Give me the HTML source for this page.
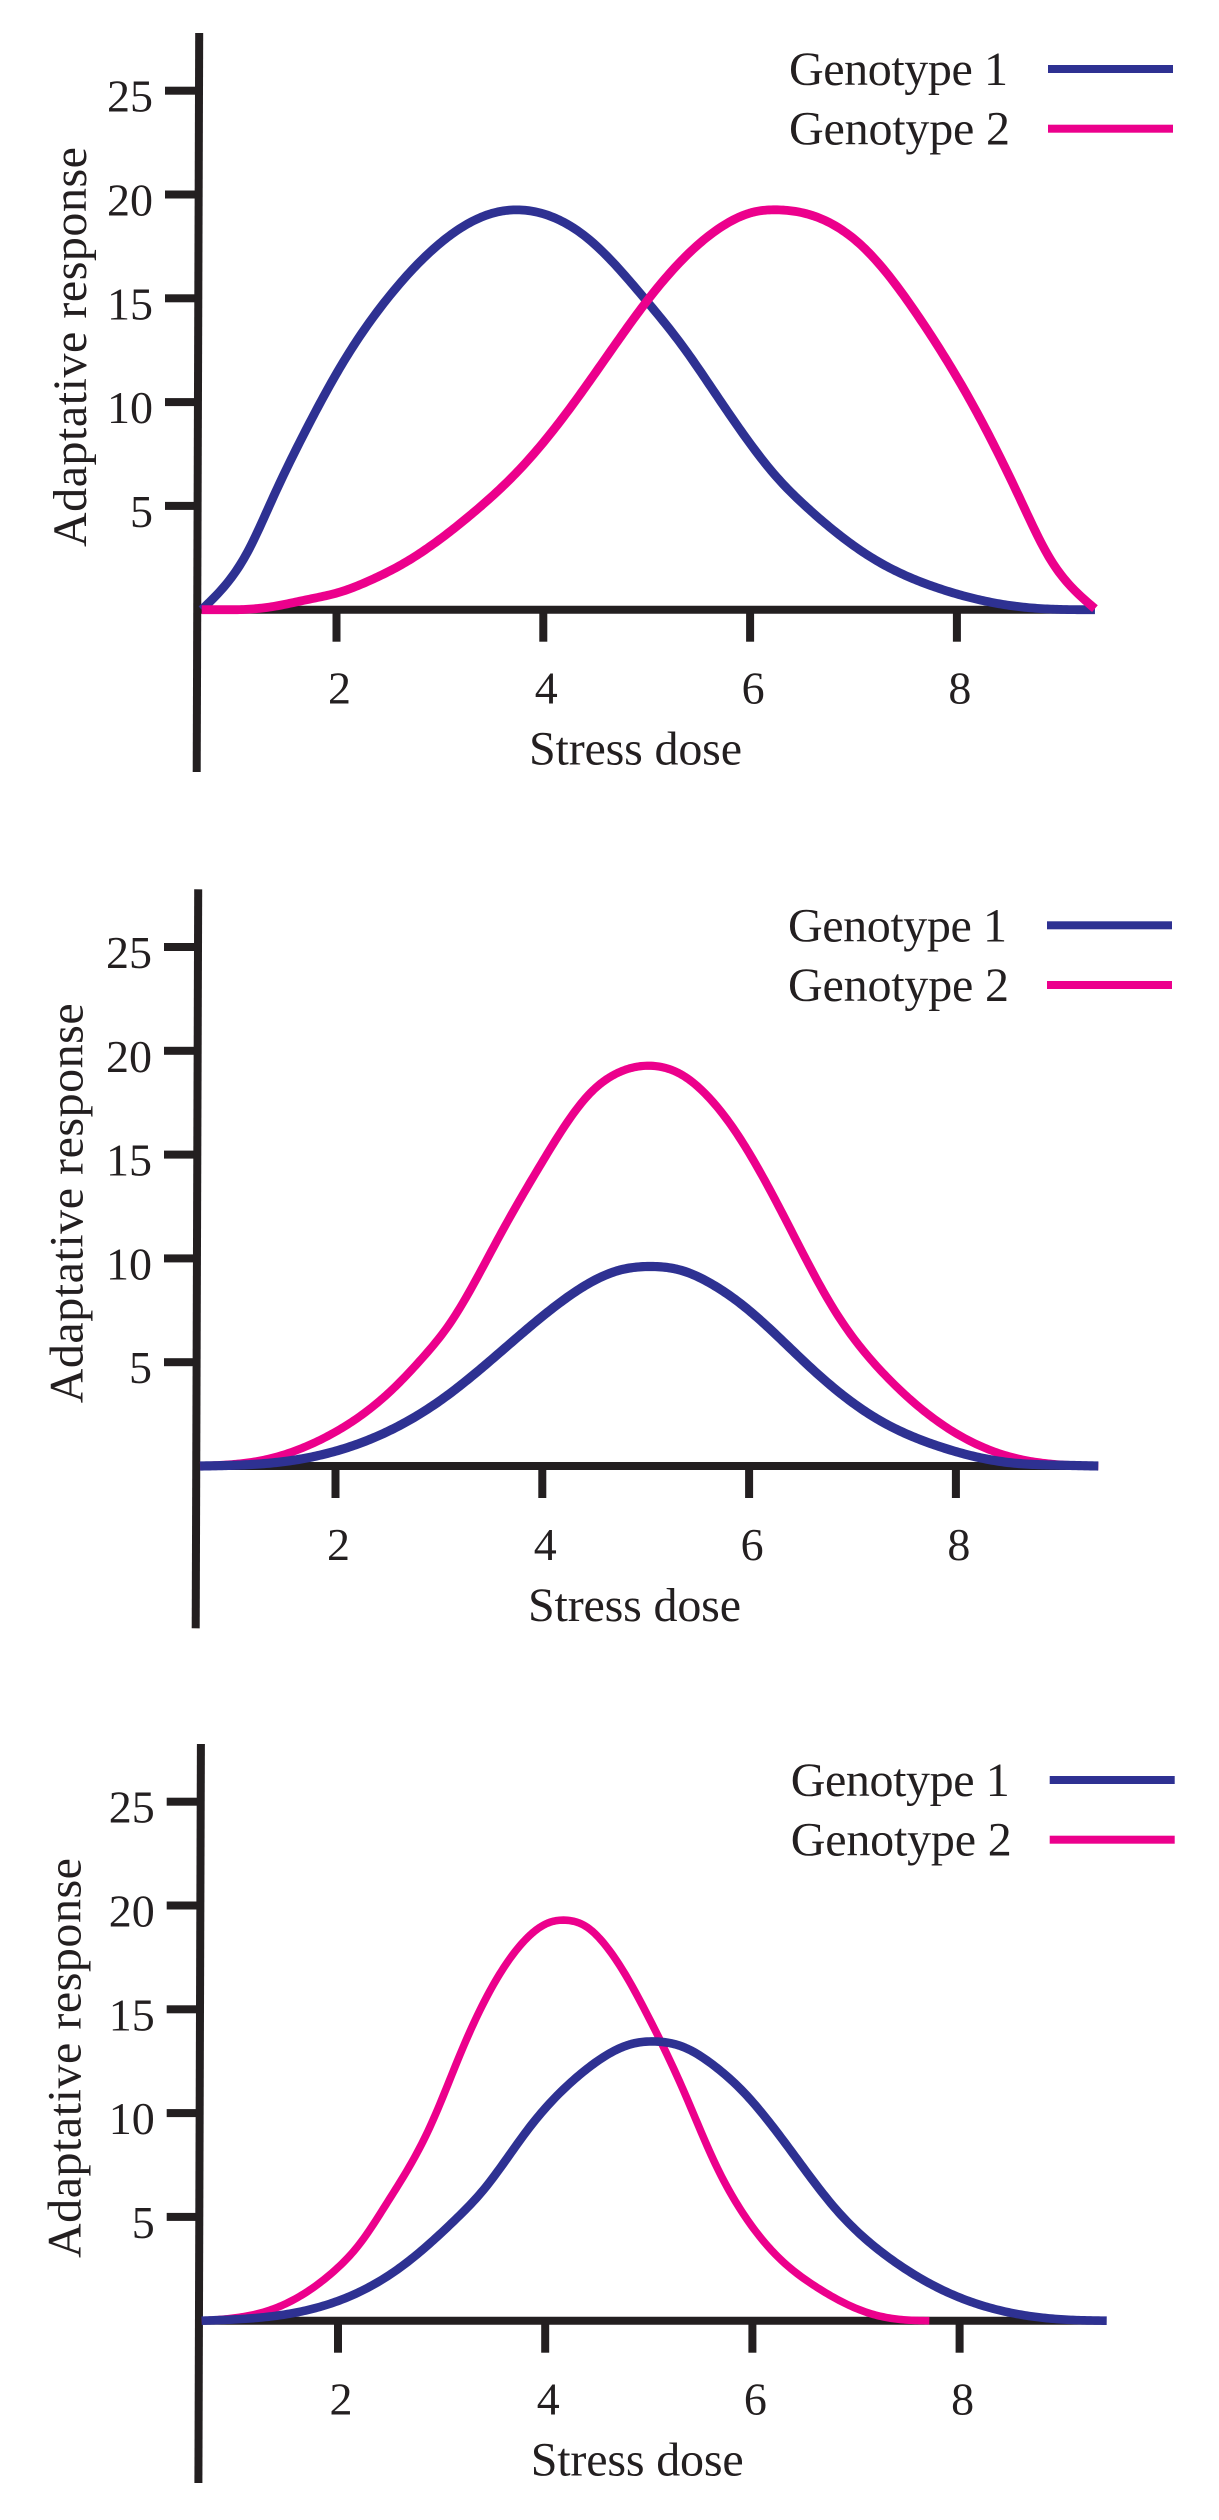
<!DOCTYPE html>
<html lang="en">
<head>
<meta charset="utf-8">
<title>Adaptative response to stress dose by genotype</title>
<style>
html,body{margin:0;padding:0;background:#fff;}
#chart{display:block;width:1219px;height:2520px;}
text{font-family:"Liberation Serif",serif;fill:#231f20;font-size:46px;}
text.big{font-size:48px;}
</style>
</head>
<body>
<svg id="chart" xmlns="http://www.w3.org/2000/svg" width="1219" height="2520" viewBox="0 0 1219 2520"></svg>
<script>
const xTickValues = [2, 4, 6, 8];
const yTickValues = [5, 10, 15, 20, 25];
const seriesNames = ["Genotype 1", "Genotype 2"];
const xAxisLabel = "Stress dose";
const yAxisLabel = "Adaptative response";

const dosesTopGenotype1 = [0.696,1.131,1.389,1.711,2.066,2.517,3.033,3.549,3.758,4.0,4.451,4.967,5.354,5.644,5.967,6.257,6.547,6.869,7.191,7.836,8.578,8.9,9.335];
const valuesTopGenotype1 = [0,2.7,5.43,8.72,11.93,15.14,17.78,19.15,19.26,19.07,17.8,15.06,12.65,10.56,8.23,6.39,4.94,3.58,2.46,1.01,0.16,0.03,0];
const dosesTopGenotype2 = [0.696,1.357,1.711,2.034,2.324,2.646,3.291,3.807,4.29,4.742,5.032,5.418,5.741,6.031,6.273,6.547,7.095,7.643,8.191,8.61,8.9,9.093,9.335];
const valuesTopGenotype2 = [0,0.13,0.48,0.85,1.41,2.22,4.54,6.95,9.92,13.1,15.06,17.22,18.5,19.15,19.26,19.07,17.46,14.01,9.52,5.35,2.46,1.17,0.05];

const dosesMiddleGenotype1 = [0.69,1.496,1.882,2.43,3.043,3.655,4.204,4.752,5.042,5.332,5.654,5.976,6.621,7.201,7.846,8.523,8.91,9.377];
const valuesMiddleGenotype1 = [0,0.21,0.56,1.49,3.26,5.75,7.99,9.44,9.61,9.44,8.72,7.59,4.62,2.38,0.93,0.16,0.05,0];
const dosesMiddleGenotype2 = [0.69,1.302,1.882,2.527,2.85,3.107,3.591,4.01,4.461,4.719,5.042,5.364,5.59,5.848,6.363,6.815,7.33,7.943,8.588,8.91,9.377];
const valuesMiddleGenotype2 = [0,0.29,1.33,3.58,5.26,6.87,11.12,14.73,17.95,18.91,19.28,18.8,17.86,16.26,11.77,7.59,4.3,1.75,0.37,0.11,0];

const dosesBottomGenotype1 = [0.684,1.375,1.955,2.566,3.145,3.402,3.853,4.368,4.85,5.05,5.35,5.623,5.88,6.331,6.813,7.328,7.94,8.68,9.033,9.42];
const valuesBottomGenotype1 = [0,0.22,0.87,2.44,4.93,6.29,9.34,11.99,13.35,13.45,13.15,12.31,11.19,8.46,5.33,3.0,1.24,0.22,0.05,0];
const dosesBottomGenotype2 = [0.684,1.343,1.955,2.212,2.47,2.888,3.209,3.595,3.82,4.014,4.207,4.4,4.593,4.786,4.979,5.333,5.655,5.848,6.073,6.331,6.588,7.135,7.425,7.708];
const valuesBottomGenotype2 = [0,0.51,2.36,3.72,5.65,9.34,13.19,16.97,18.41,19.13,19.29,18.97,18.01,16.57,14.8,11.11,7.42,5.65,4.04,2.68,1.72,0.35,0.06,0];

const NS = "http://www.w3.org/2000/svg";
const BLUE = "#2e3192";
const PINK = "#ec008c";
const INK = "#231f20";
const svg = document.getElementById("chart");

const panels = [
  { id: "top", ox: 0, base: 609.7, k: 103.4, x0: 336.5, domainMax: 9.30, titleX: 86, pinkOnTop: true, blueWidth: 8.8, pinkWidth: 8.8,
    g1: [dosesTopGenotype1, valuesTopGenotype1], g2: [dosesTopGenotype2, valuesTopGenotype2] },
  { id: "middle", ox: -1, base: 1466, k: 103.4, x0: 335.5, domainMax: 9.35, titleX: 82.5, pinkOnTop: false, blueWidth: 9.2, pinkWidth: 8.2,
    g1: [dosesMiddleGenotype1, valuesMiddleGenotype1], g2: [dosesMiddleGenotype2, valuesMiddleGenotype2] },
  { id: "bottom", ox: 1.7, base: 2320.7, k: 103.6, x0: 338, domainMax: 9.40, titleX: 80.5, pinkOnTop: false, blueWidth: 8.6, pinkWidth: 7.6,
    g1: [dosesBottomGenotype1, valuesBottomGenotype1], g2: [dosesBottomGenotype2, valuesBottomGenotype2] }
];

function make(tag, attrs, parent) {
  const el = document.createElementNS(NS, tag);
  for (const key in attrs) el.setAttribute(key, attrs[key]);
  parent.appendChild(el);
  return el;
}

/* natural cubic spline through the read points, returned as an evaluator */
function spline(xs, ys) {
  const n = xs.length;
  const a = new Array(n).fill(0), b = new Array(n).fill(1), c = new Array(n).fill(0), r = new Array(n).fill(0);
  for (let i = 1; i < n - 1; i++) {
    const h0 = xs[i] - xs[i - 1], h1 = xs[i + 1] - xs[i];
    a[i] = h0;
    b[i] = 2 * (h0 + h1);
    c[i] = h1;
    r[i] = 6 * ((ys[i + 1] - ys[i]) / h1 - (ys[i] - ys[i - 1]) / h0);
  }
  for (let i = 1; i < n; i++) {
    const w = a[i] / b[i - 1];
    b[i] -= w * c[i - 1];
    r[i] -= w * r[i - 1];
  }
  const m = new Array(n).fill(0);
  m[n - 1] = r[n - 1] / b[n - 1];
  for (let i = n - 2; i >= 0; i--) m[i] = (r[i] - c[i] * m[i + 1]) / b[i];
  return function (x) {
    let i = 0;
    while (i < n - 2 && x > xs[i + 1]) i++;
    const h = xs[i + 1] - xs[i], A = (xs[i + 1] - x) / h, B = (x - xs[i]) / h;
    return A * ys[i] + B * ys[i + 1] + ((A * A * A - A) * m[i] + (B * B * B - B) * m[i + 1]) * h * h / 6;
  };
}

panels.forEach(function (p) {
  const xScale = function (d) { return p.x0 + (d - 2) * p.k; };
  const yScale = function (v) { return p.base - v * 20.76; };

  const g = make("g", {}, svg);
  
  

  yTickValues.forEach(function (v) {
    const tick = make("rect", { x: 165 + p.ox, y: yScale(v) - 4, width: 32, height: 8, fill: INK }, g);
    
    
    const label = make("text", { x: 153 + p.ox, y: yScale(v) + 21, "text-anchor": "end" }, g);
    label.textContent = String(v);
    
    
  });

  xTickValues.forEach(function (v) {
    const tick = make("rect", { x: xScale(v) - 4, y: p.base, width: 8, height: 32, fill: INK }, g);
    
    
    const label = make("text", { x: xScale(v) + 3, y: p.base + 94, "text-anchor": "middle" }, g);
    label.textContent = String(v);
    
    
  });

  const baseline = make("line", { x1: 197 + p.ox, y1: p.base, x2: xScale(p.domainMax), y2: p.base, stroke: INK, "stroke-width": 8 }, g);
  
  

  const yAxis = make("line", { x1: 199.2 + p.ox, y1: p.base - 576.7, x2: 196.7 + p.ox, y2: p.base + 162.3, stroke: INK, "stroke-width": 8 }, g);
  
  

  const xTitle = make("text", { class: "big", x: 529 + p.ox, y: p.base + 155, textLength: 213, lengthAdjust: "spacing" }, g);
  xTitle.textContent = xAxisLabel;
  
  

  const yTitle = make("text", { class: "big", transform: "translate(" + p.titleX + " " + (p.base - 62.7) + ") rotate(-90)", textLength: 400, lengthAdjust: "spacing" }, g);
  yTitle.textContent = yAxisLabel;
  
  

  const drawSeries = function (series, color, width, name) {
    const f = spline(series[0], series[1]);
    const first = series[0][0];
    const last = series[0][series[0].length - 1];
    const steps = Math.ceil((xScale(last) - xScale(first)) / 2);
    let d = "";
    for (let i = 0; i <= steps; i++) {
      const dose = first + (last - first) * i / steps;
      const px = xScale(dose);
      const py = yScale(Math.max(0, f(dose)));
      d += (i === 0 ? "M" : "L") + px.toFixed(2) + " " + py.toFixed(2);
    }
    const line = make("path", { d: d, fill: "none", stroke: color, "stroke-width": width, "stroke-linejoin": "round" }, g);
    
    
  };
  if (p.pinkOnTop) {
    drawSeries(p.g1, BLUE, p.blueWidth, 'genotype-1-curve');
    drawSeries(p.g2, PINK, p.pinkWidth, 'genotype-2-curve');
  } else {
    drawSeries(p.g2, PINK, p.pinkWidth, 'genotype-2-curve');
    drawSeries(p.g1, BLUE, p.blueWidth, 'genotype-1-curve');
  }

  seriesNames.forEach(function (name, i) {
    const rowY = p.base - 540.7 + i * 59.7;
    const entryText = make("text", { class: "big", x: 789 + p.ox, y: rowY + 16, textLength: i === 0 ? 219 : 221, lengthAdjust: "spacing" }, g);
    entryText.textContent = name;
    
    
    const swatch = make("rect", { x: 1048 + p.ox, y: rowY - 4, width: 125, height: 8, fill: i === 0 ? BLUE : PINK }, g);
    
    
  });
});
</script>
</body>
</html>
